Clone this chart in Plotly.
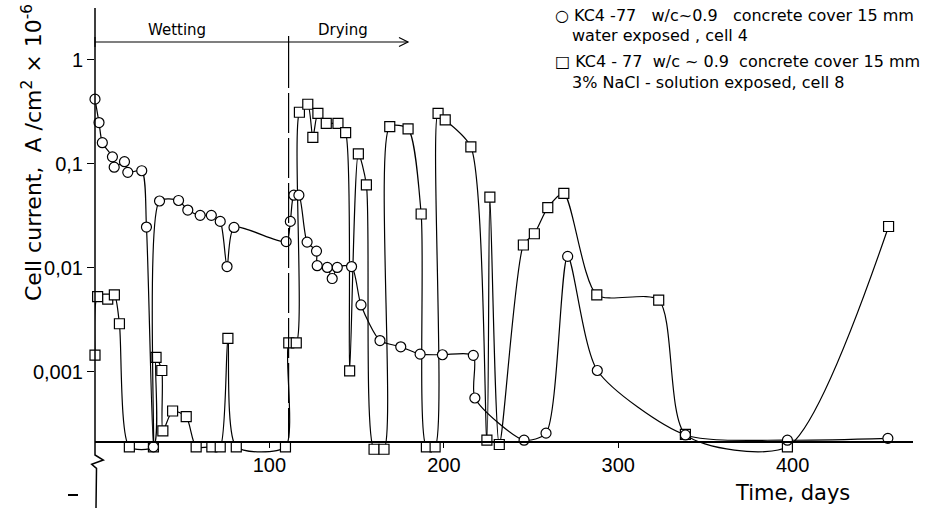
import plotly.graph_objects as go

# ---- data (days, cell current A/cm2 x 1e-6) ----
water_days = [0, 2.3, 4.2, 10, 11, 16.9, 18.8, 26.8, 29.5, 33.5,
              37, 47.9, 53.2, 60.3, 66.7, 71.8, 75.7, 79.7, 109.6, 112,
              114, 116.9, 121.6, 127, 127.4, 133.2, 136, 138.9, 147.1, 152.5,
              163.4, 175.3, 186.4, 199.2, 216.9, 217.8, 246, 258.6, 271, 288,
              338.5, 397, 454.6]
water_vals = [0.42, 0.25, 0.16, 0.117, 0.093, 0.105, 0.083, 0.086, 0.0247, 0.00019,
              0.044, 0.0445, 0.036, 0.032, 0.032, 0.028, 0.0103, 0.0245, 0.0179, 0.028,
              0.05, 0.05, 0.0177, 0.0145, 0.0105, 0.0101, 0.0079, 0.0101, 0.0103, 0.0044,
              0.0020, 0.00174, 0.00148, 0.00146, 0.00144, 0.00056, 0.00022, 0.000257, 0.0129, 0.00103,
              0.000247, 0.00022, 0.000229]

nacl_days = [0, 1.5, 7.3, 11.1, 14, 19.7, 33.5, 35, 38.3, 38.9,
             44.5, 52.3, 58, 67, 71.8, 76.2, 81, 109.2, 111.1, 115.4,
             117.2, 122, 124.9, 127.8, 132.6, 139.3, 143.7, 146, 151, 155.6,
             160, 165.7, 169, 179.5, 187, 190, 195, 196.7, 200.8, 215.5,
             224.7, 226.4, 231.8, 245.6, 251.9, 259.6, 268.8, 287.7, 323.2, 338.5,
             397, 455]
nacl_vals = [0.00145, 0.0053, 0.0050, 0.0055, 0.0029, 0.00019, 0.00019, 0.00138, 0.00103, 0.00027,
             0.00042, 0.00037, 0.00019, 0.00019, 0.00019, 0.0021, 0.00019, 0.00019, 0.0019, 0.0019,
             0.314, 0.375, 0.18, 0.307, 0.246, 0.246, 0.2, 0.00102, 0.125, 0.063,
             0.00018, 0.00018, 0.228, 0.217, 0.033, 0.00019, 0.00019, 0.307, 0.265, 0.146,
             0.00022, 0.048, 0.0002, 0.0166, 0.0213, 0.038, 0.052, 0.0055, 0.0049, 0.00025,
             0.00019, 0.025]

y_tickvals = [1, 0.1, 0.01, 0.001]
y_ticktext = ["1", "0,1", "0,01", "0,001"]
x_tickvals = [100, 200, 300, 400]
x_ticktext = ["100", "200", "300", "400"]
switch_day = 111  # wetting -> drying

NB = "\u00a0"
legend_lines = [
    f"○ KC4 -77{NB}{NB} w/c~0.9{NB}{NB} concrete cover 15 mm",
    "water exposed , cell 4",
    f"□ KC4 - 77{NB} w/c ~ 0.9{NB} concrete cover 15 mm",
    "3% NaCl - solution exposed, cell 8",
]

W, H = 933, 508
ML, MR, MT, MB = 95, 20, 8, 0
PW, PH = W - ML - MR, H - MT - MB
YR = [-4.31, 0.5]
XR = [0, 469]
BASELINE_LOG = -3.673


def px(xp):
    return (xp - ML) / PW


def py(yp):
    return (H - MB - yp) / PH


fig = go.Figure()
line_style = dict(color="black", width=1.2, shape="spline", smoothing=0.7)
fig.add_trace(go.Scatter(
    x=nacl_days, y=nacl_vals, mode="lines+markers", cliponaxis=False,
    line=line_style,
    marker=dict(symbol="square", size=10, color="white",
                line=dict(color="black", width=1.2)),
    showlegend=False))
fig.add_trace(go.Scatter(
    x=water_days, y=water_vals, mode="lines+markers", cliponaxis=False,
    line=line_style,
    marker=dict(symbol="circle", size=10, color="white",
                line=dict(color="black", width=1.2)),
    showlegend=False))

axis_pos = (BASELINE_LOG - YR[0]) / (YR[1] - YR[0])

shapes = []
# y-axis line with break symbol
shapes.append(dict(type="path", xref="paper", yref="paper",
                   path=f"M 0,1 L 0,{py(455)} L {px(103.3)},{py(460)} L {px(91.7)},{py(464.3)} "
                        f"L {px(96.5)},{py(468.3)} L {px(96)},0",
                   line=dict(color="black", width=1.5)))
# wetting/drying header line with arrow
shapes.append(dict(type="line", xref="paper", yref="paper", x0=0, x1=px(408),
                   y0=py(42), y1=py(42), line=dict(color="black", width=1.2)))
shapes.append(dict(type="path", xref="paper", yref="paper",
                   path=f"M {px(399)},{py(37.5)} L {px(408)},{py(42)} L {px(399)},{py(46.5)}",
                   line=dict(color="black", width=1.2)))
shapes.append(dict(type="line", xref="paper", yref="paper", x0=0, x1=0,
                   y0=py(37), y1=py(47), line=dict(color="black", width=1.2)))
shapes.append(dict(type="line", xref="x", yref="paper", x0=switch_day, x1=switch_day,
                   y0=py(36), y1=py(48), line=dict(color="black", width=1.2)))
# dashed vertical line
shapes.append(dict(type="line", xref="x", yref="paper", x0=switch_day, x1=switch_day,
                   y0=py(48), y1=py(438),
                   line=dict(color="black", width=1.2, dash="40px,5px")))
# dash below the break
shapes.append(dict(type="line", xref="paper", yref="paper", x0=px(68), x1=px(78),
                   y0=py(495), y1=py(495), line=dict(color="black", width=2)))

annotations = [
    dict(text="Wetting", x=px(177), y=py(30), xref="paper", yref="paper",
         xanchor="center", yanchor="middle",
         showarrow=False, font=dict(family="DejaVu Sans", size=15, color="black")),
    dict(text="Drying", x=px(343), y=py(30), xref="paper", yref="paper",
         xanchor="center", yanchor="middle",
         showarrow=False, font=dict(family="DejaVu Sans", size=15, color="black")),
    dict(text="Time, days", x=px(792), y=py(493), xref="paper", yref="paper",
         xanchor="center", yanchor="middle",
         showarrow=False, font=dict(family="DejaVu Sans", size=21, color="black")),
    dict(text=f"Cell current,{NB}{NB}A /cm<sup>2</sup> × 10<sup>-6</sup>",
         x=px(32), y=py(153), xref="paper", yref="paper", textangle=-90,
         xanchor="center", yanchor="middle",
         showarrow=False, font=dict(family="DejaVu Sans", size=22, color="black")),
]
for txt, xl, yl in zip(legend_lines, [553, 570, 553, 570], [15, 35, 62, 82]):
    annotations.append(dict(text=txt, x=px(xl), y=py(yl), xref="paper", yref="paper",
                            xanchor="left", yanchor="middle", showarrow=False,
                            font=dict(family="DejaVu Sans", size=16, color="black")))

fig.update_layout(
    width=W, height=H,
    margin=dict(l=ML, r=MR, t=MT, b=MB),
    plot_bgcolor="white", paper_bgcolor="white",
    shapes=shapes, annotations=annotations,
    xaxis=dict(range=XR, anchor="free", position=axis_pos, showline=True,
               linecolor="black", linewidth=1.5, showgrid=False, zeroline=False,
               ticks="outside", ticklen=5, tickcolor="black", tickwidth=1.2,
               tickvals=x_tickvals, ticktext=x_ticktext,
               tickfont=dict(family="Liberation Sans", size=20, color="black")),
    yaxis=dict(type="log", range=YR, showline=False, showgrid=False, zeroline=False,
               ticks="outside", ticklen=7, tickcolor="black", tickwidth=1.2,
               tickvals=y_tickvals, ticktext=y_ticktext,
               tickfont=dict(family="Liberation Sans", size=20, color="black")),
)

fig.write_html("out.html", config={"displayModeBar": False},
               post_script="document.body.style.margin='0';document.body.style.padding='0';")
